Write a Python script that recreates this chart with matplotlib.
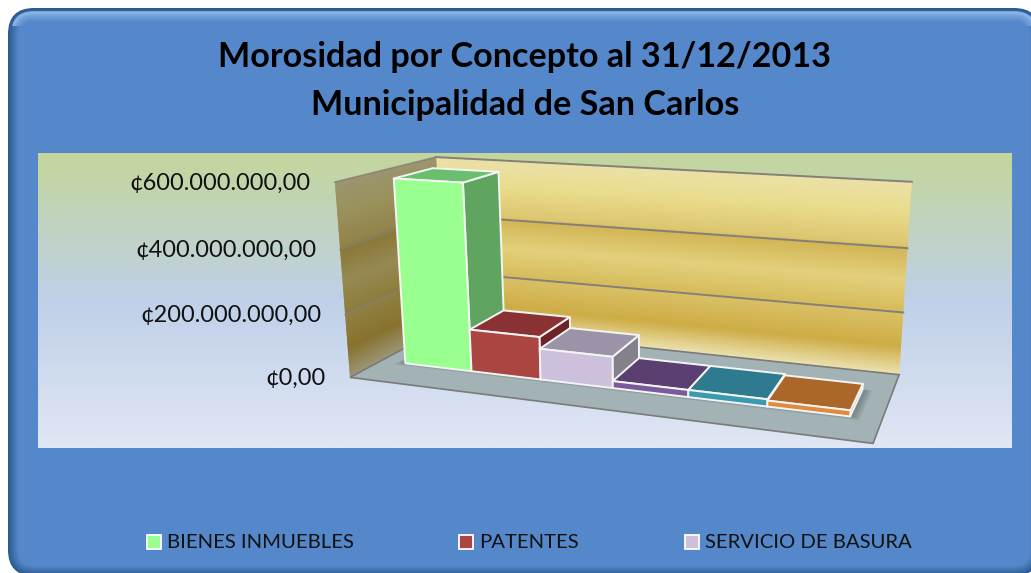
import numpy as np
import matplotlib
matplotlib.use('Agg')
import matplotlib.pyplot as plt
from matplotlib.colors import LinearSegmentedColormap, to_rgb
from matplotlib.patches import FancyBboxPatch, Polygon, Rectangle

plt.rcParams['font.family'] = ['Lato', 'DejaVu Sans']

# datos
titulo = 'Morosidad por Concepto al 31/12/2013\nMunicipalidad de San Carlos'
valores = [590e6, 135e6, 98e6, 22e6, 22e6, 18e6]
ticks = [0, 200e6, 400e6, 600e6]
tick_labels = ['¢0,00', '¢200.000.000,00', '¢400.000.000,00', '¢600.000.000,00']
conceptos = ['BIENES INMUEBLES', 'PATENTES', 'SERVICIO DE BASURA']
ymax = 600e6

# colores de cada barra: frente, arriba, lado
frente = ['#99FF8F', '#AB4541', '#CDC0DC', '#7B5A9C', '#3A9AB0', '#E08A3C']
arriba = ['#6ABF6E', '#8A3233', '#9D93A8', '#5A3F70', '#2E7A8E', '#AB6729']
lado = ['#5FA55F', '#6E2326', '#84808C', '#4A3560', '#256478', '#8F5522']

BLUE = '#5588CA'

fig = plt.figure(figsize=(10.31, 5.73), dpi=100, facecolor='white')
ax = fig.add_axes([0, 0, 1, 1])
ax.set_xlim(0, 1031)
ax.set_ylim(573, 0)
ax.axis('off')


def rounded(inset, **kw):
    return FancyBboxPatch((8 + inset, 8 + inset), 1032 - 2 * inset, 568 - 2 * inset,
                          boxstyle='round,pad=0,rounding_size=%f' % max(26 - inset, 2), **kw)


# tarjeta azul con bisel
base = np.array(to_rgb(BLUE))
oscuro = np.array(to_rgb('#2C5A8E'))
for i in range(11):
    t = i / 10
    ax.add_patch(rounded(i, fc=oscuro * (1 - t) + base * t, ec='none', zorder=1))
for i in range(10):
    p = rounded(4 + i, fc='none', ec='#9CC6F8', lw=1.2, alpha=0.75 * (1 - i / 10) ** 1.5, zorder=2)
    ax.add_patch(p)
    p.set_clip_path(Rectangle((12, 8), 1019, 18, transform=ax.transData))

# fondo del area del grafico
fondo = LinearSegmentedColormap.from_list('fondo', ['#C3D69B', '#BFD0E8', '#E0E7F5'])
ax.imshow(np.linspace(0, 1, 256)[:, None], cmap=fondo, extent=(38, 1012, 448, 153),
          aspect='auto', zorder=3)
ax.set_xlim(0, 1031)
ax.set_ylim(573, 0)

# camara: (u, v, w) -> pixel, ajustada a las esquinas de las paredes
esquinas = [((0, 0, 0), (349, 377)), ((1, 0, 0), (873, 444)), ((1, 1, 0), (899, 374)),
            ((0, 1, 0), (446, 327)), ((0, 0, 1), (336, 182)), ((0, 1, 1), (435, 157)),
            ((1, 1, 1), (912, 182))]
A, b = [], []
for (u, v, w), (x, y) in esquinas:
    A.append([u, v, w, 1, 0, 0, 0, 0, -x * u, -x * v, -x * w])
    b.append(x)
    A.append([0, 0, 0, 0, u, v, w, 1, -y * u, -y * v, -y * w])
    b.append(y)
cam = np.linalg.lstsq(np.array(A, float), np.array(b, float), rcond=None)[0]


def project(u, v, w):
    d = cam[8] * u + cam[9] * v + cam[10] * w + 1
    return ((cam[0] * u + cam[1] * v + cam[2] * w + cam[3]) / d,
            (cam[4] * u + cam[5] * v + cam[6] * w + cam[7]) / d)


def cara(puntos, **kw):
    ax.add_patch(Polygon([project(*p) for p in puntos], closed=True, **kw))


# paredes con degradado por franjas
paradas = [(0.0, '#EBE1AE'), (0.15, '#CEAC45'), (0.32, '#D9C064'), (0.335, '#D6BB5A'),
           (0.5, '#E3D07C'), (0.66, '#D3B655'), (0.68, '#DCC670'), (0.85, '#E9DC8C'), (1.0, '#EBE1A8')]
pared = LinearSegmentedColormap.from_list('pared', paradas)
n = 150
for i in range(n):
    w0, w1 = i / n, (i + 1.6) / n
    w1 = min(w1, 1)
    c = np.array(pared(i / n)[:3])
    cara([(0, 1, w0), (1, 1, w0), (1, 1, w1), (0, 1, w1)], fc=c, ec='none', zorder=4)
    cara([(0, 0, w0), (0, 1, w0), (0, 1, w1), (0, 0, w1)], fc=c * 0.66, ec='none', zorder=4)

# piso
cara([(0, 0, 0), (1, 0, 0), (1, 1, 0), (0, 1, 0)], fc='#A3B2B5', ec='#7A7A78', lw=1.2, zorder=5)

# lineas de la cuadricula y etiquetas del eje
for val, lab in zip(ticks, tick_labels):
    w = val / ymax
    if val > 0:
        xs, ys = zip(project(0, 1, w), project(1, 1, w))
        ax.plot(xs, ys, color='#857F78', lw=1.4, zorder=5)
        xs, ys = zip(project(0, 0, w), project(0, 1, w))
        ax.plot(xs, ys, color='#857F78', lw=1.2, alpha=0.8, zorder=5)
    x, y = project(0, 0, w)
    ax.text(x - 24, y + 1, lab, ha='right', va='center', fontsize=16.9, color='#111111', zorder=9)

# barras
u0, u1 = 0.055, 0.945
v0, v1 = 0.30, 0.70
ancho = (u1 - u0) / len(valores)

# sombra suave sobre el piso
for i in range(5):
    m = 0.003 * i
    cara([(u0 - 0.006 - m, v0 - m * 3, 0), (u1 + 0.006 + m, v0 - m * 3, 0),
          (u1 + 0.006 + m, v1, 0), (u0 - 0.006 - m, v1, 0)],
         fc='#3A4A50', ec='none', alpha=0.09, zorder=5.5)

for i, val in enumerate(valores):
    a, c = u0 + i * ancho, u0 + (i + 1) * ancho
    w = val / ymax
    estilo = dict(ec='#F4F4F4', lw=1.4, joinstyle='round', zorder=6 + i * 0.1)
    cara([(c, v0, 0), (c, v1, 0), (c, v1, w), (c, v0, w)], fc=lado[i], **estilo)
    cara([(a, v0, w), (c, v0, w), (c, v1, w), (a, v1, w)], fc=arriba[i], **estilo)
    cara([(a, v0, 0), (c, v0, 0), (c, v0, w), (a, v0, w)], fc=frente[i], **estilo)

# titulo
ax.text(525, 81, titulo, ha='center', va='center', fontsize=24.6, fontweight='bold',
        color='black', linespacing=1.62, zorder=9)

# leyenda
swatch_x = [146, 458, 684]
for x, nombre, col in zip(swatch_x, conceptos, frente):
    ax.add_patch(Rectangle((x + 0.5, 535), 14, 14, fc=col, ec='white', lw=1.3, zorder=9))
    ax.text(x + 21, 542, nombre, ha='left', va='center', fontsize=14.6, color='#111111', zorder=9)

fig.savefig('out.png', dpi=100)
